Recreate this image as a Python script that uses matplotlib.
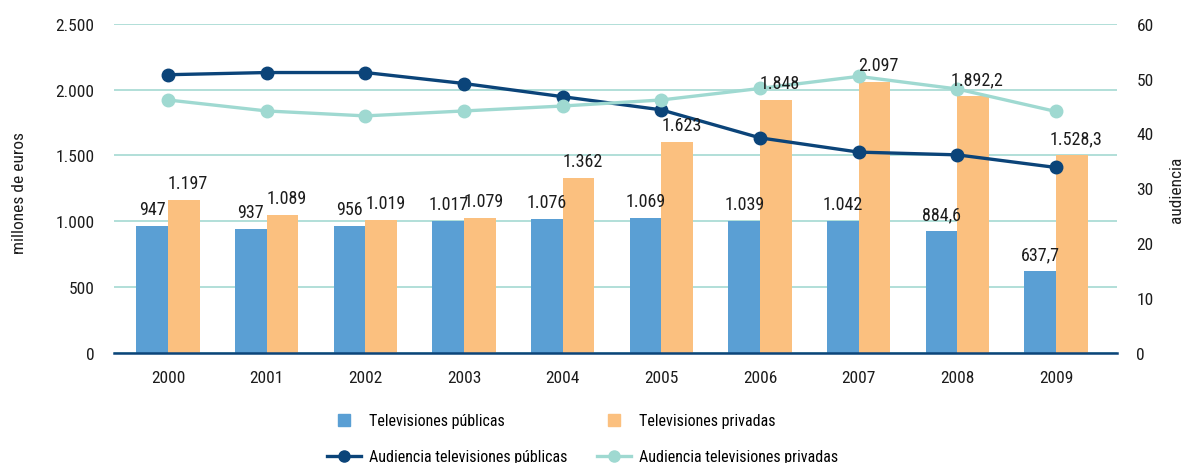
import matplotlib
matplotlib.use("Agg")
import matplotlib.pyplot as plt
from matplotlib.lines import Line2D
from matplotlib import font_manager
import numpy as np

# pick a narrow face if one is installed
installed = font_manager.fontManager.ttflist
names = {f.name for f in installed}
narrow = [n for n in ["Liberation Sans Narrow", "Roboto Condensed", "Open Sans Condensed",
                      "DejaVu Sans Condensed"] if n in names]
cond_dejavu = any(f.name == "DejaVu Sans" and "condensed" in str(f.stretch) for f in installed)
if narrow:
    plt.rcParams['font.family'] = [narrow[0], 'DejaVu Sans']
    fs = 12.5
elif cond_dejavu:
    plt.rcParams['font.family'] = ['DejaVu Sans']
    plt.rcParams['font.stretch'] = 'condensed'
    fs = 12
else:
    plt.rcParams['font.family'] = ['DejaVu Sans']
    fs = 11

# --- data ---
years = ["2000", "2001", "2002", "2003", "2004", "2005", "2006", "2007", "2008", "2009"]

# bar heights as drawn (millones de euros)
publicas = [963, 941, 963, 1001, 1017, 1024, 1001, 1001, 926, 622]
privadas = [1161, 1047, 1009, 1024, 1328, 1601, 1920, 2059, 1952, 1502]

# value labels printed above the bars
publicas_lbl = ["947", "937", "956", "1.017", "1.076", "1.069", "1.039", "1.042", "884,6", "637,7"]
privadas_lbl = ["1.197", "1.089", "1.019", "1.079", "1.362", "1.623", "1.848", "2.097", "1.892,2", "1.528,3"]

# audiencia (right axis)
aud_publicas = [50.7, 51.1, 51.1, 49.1, 46.7, 44.3, 39.2, 36.6, 36.1, 33.8]
aud_privadas = [46.1, 44.1, 43.2, 44.1, 45.0, 46.1, 48.2, 50.4, 48.1, 44.0]

# colours
c_pub = "#5a9fd4"
c_priv = "#fbc07f"
c_line_pub = "#0b4479"
c_line_priv = "#9fd9d1"
c_grid = "#abdcd6"
c_text = "#1c1c1c"

fig = plt.figure(figsize=(11.85, 4.64), dpi=100)
ax = fig.add_axes([0.0962, 0.2371, 0.8464, 0.7097])
ax2 = ax.twinx()

x = np.arange(len(years))
w = 0.32

ax.bar(x - w / 2, publicas, width=w, color=c_pub, zorder=2)
ax.bar(x + w / 2, privadas, width=w, color=c_priv, zorder=2)

ax.set_ylim(0, 2500)
ax.set_yticks(range(0, 2501, 500))
ax.set_yticklabels(["0", "500", "1.000", "1.500", "2.000", "2.500"])
ax.set_xlim(-0.547, 9.618)
ax.set_xticks(x)
ax.set_xticklabels(years)
ax.yaxis.grid(True, color=c_grid, linewidth=1.3, zorder=0)
ax.set_axisbelow(True)
ax.tick_params(axis="both", length=0, labelsize=fs, colors=c_text)
ax.tick_params(axis="y", pad=14)
ax.tick_params(axis="x", pad=12)
for s in ["top", "right", "left"]:
    ax.spines[s].set_visible(False)
ax.spines["bottom"].set_color(c_line_pub)
ax.spines["bottom"].set_linewidth(1.8)
ax.set_ylabel("millones de euros", fontsize=fs, color=c_text)
ax.yaxis.set_label_coords(-0.087, 0.49)

ax2.plot(x, aud_publicas, color=c_line_pub, linewidth=2.4, marker="o", markersize=9, zorder=3)
ax2.plot(x, aud_privadas, color=c_line_priv, linewidth=2.4, marker="o", markersize=9, zorder=3)
ax2.set_ylim(0, 60)
ax2.set_yticks(range(0, 61, 10))
ax2.tick_params(axis="y", length=0, labelsize=fs, colors=c_text, pad=14)
for s in ["top", "right", "left", "bottom"]:
    ax2.spines[s].set_visible(False)
ax2.set_ylabel("audiencia", fontsize=fs, color=c_text)
ax2.yaxis.set_label_coords(1.052, 0.5)

# value labels on top of everything
for i in range(len(years)):
    ax2.annotate(publicas_lbl[i], (x[i] - w / 2, publicas[i]), xycoords=ax.transData,
                 xytext=(0, 12), textcoords="offset points", ha="center", va="center",
                 fontsize=fs + 0.5, color=c_text, zorder=5)
    ax2.annotate(privadas_lbl[i], (x[i] + w / 2, privadas[i]), xycoords=ax.transData,
                 xytext=(3, 12), textcoords="offset points", ha="center", va="center",
                 fontsize=fs + 0.5, color=c_text, zorder=5)

# legend: two columns placed separately so the column starts match
col1 = [Line2D([], [], linestyle="none", marker="s", markersize=9, color=c_pub),
        Line2D([], [], color=c_line_pub, linewidth=2.4, marker="o", markersize=8)]
col2 = [Line2D([], [], linestyle="none", marker="s", markersize=9, color=c_priv),
        Line2D([], [], color=c_line_priv, linewidth=2.4, marker="o", markersize=8)]
lab1 = ["Televisiones públicas", "Audiencia televisiones públicas"]
lab2 = ["Televisiones privadas", "Audiencia televisiones privadas"]
for hs, ls, x0 in [(col1, lab1, 327 / 1185), (col2, lab2, 597 / 1185)]:
    fig.legend(hs, ls, loc="upper left", bbox_to_anchor=(x0, 0.107),
               frameon=False, fontsize=fs - 1, handlelength=2.1, handletextpad=0.55,
               labelspacing=1.3, borderpad=0, borderaxespad=0)

fig.savefig("out.png", dpi=100)
